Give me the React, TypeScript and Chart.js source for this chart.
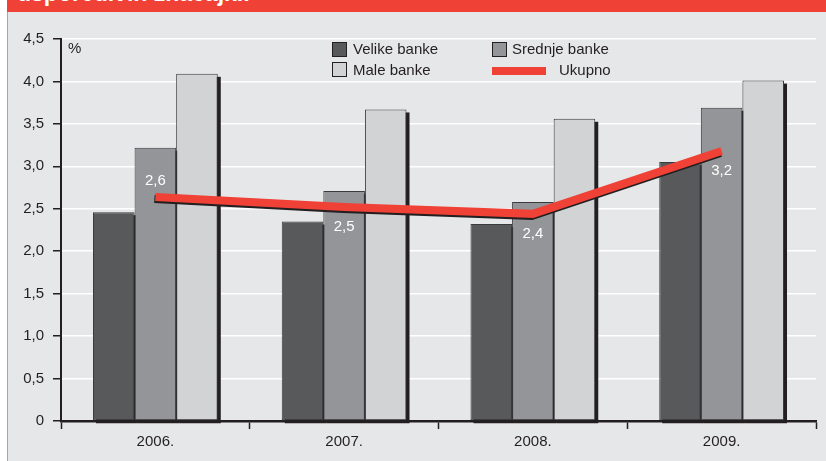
import React, { useEffect, useRef } from 'react';
import { Chart, registerables } from 'chart.js';

Chart.register(...registerables);

const titleText = 'usporedivih značajki.';
const categories = ['2006.', '2007.', '2008.', '2009.'];
const seriesNames = ['Velike banke', 'Srednje banke', 'Male banke', 'Ukupno'];
const velikeBanke = [2.46, 2.35, 2.32, 3.05];
const srednjeBanke = [3.22, 2.71, 2.58, 3.69];
const maleBanke = [4.09, 3.67, 3.56, 4.01];
const ukupno = [2.64, 2.52, 2.44, 3.18];
const labelSide = ['above', 'below', 'below', 'below'];
const yMin = 0;
const yMax = 4.5;
const yStep = 0.5;
const unitLabel = '%';

const FONT = "'Liberation Sans', Arial, sans-serif";
const TEXT = '#231f20';
const RED = '#ef4136';
const BG = '#e6e7e8';
const DARK = '#58595b';
const MID = '#939598';
const LIGHT = '#d1d3d4';

const fmt = (v: number) => (v === 0 ? '0' : v.toFixed(1).replace('.', ','));

// Bar drop shadows drawn behind all bars, from the bar elements' own geometry
const barShadowPlugin = {
  id: 'barShadows',
  beforeDatasetsDraw(chart: any) {
    const ctx = chart.ctx;
    ctx.save();
    ctx.fillStyle = TEXT;
    chart.data.datasets.forEach((ds: any, i: number) => {
      if (ds.type !== 'bar') return;
      const meta = chart.getDatasetMeta(i);
      meta.data.forEach((el: any) => {
        const w = el.width;
        const left = el.x - w / 2;
        const top = Math.min(el.y, el.base);
        const h = Math.abs(el.base - el.y);
        ctx.fillRect(left + 3, top + 3, w, h);
      });
    });
    ctx.restore();
  },
};

const lineShadowPlugin = {
  id: 'lineShadow',
  beforeDatasetDraw(chart: any, args: any) {
    const ds = chart.data.datasets[args.index];
    const ctx = chart.ctx;
    ctx.save();
    if (ds.type === 'line') {
      ctx.shadowColor = TEXT;
      ctx.shadowBlur = 0;
      ctx.shadowOffsetX = -1;
      ctx.shadowOffsetY = 2;
    }
  },
  afterDatasetDraw(chart: any) {
    chart.ctx.restore();
  },
};

const lineLabelPlugin = {
  id: 'lineLabels',
  afterDatasetsDraw(chart: any) {
    const ctx = chart.ctx;
    chart.data.datasets.forEach((ds: any, i: number) => {
      if (ds.type !== 'line') return;
      const meta = chart.getDatasetMeta(i);
      ctx.save();
      ctx.fillStyle = '#ffffff';
      ctx.font = `15px ${FONT}`;
      ctx.textAlign = 'center';
      ctx.textBaseline = 'middle';
      meta.data.forEach((pt: any, j: number) => {
        const v = ds.data[j] as number;
        const txt = (Math.round(v * 10) / 10).toFixed(1).replace('.', ',');
        const dy = labelSide[j] === 'above' ? -16 : 20;
        ctx.fillText(txt, pt.x, pt.y + dy);
      });
      ctx.restore();
    });
  },
};

function ChartCanvas() {
  const ref = useRef<HTMLCanvasElement | null>(null);
  useEffect(() => {
    if (!ref.current) return;
    const barCommon = {
      borderColor: '#3b3a3c',
      borderWidth: 1,
      borderSkipped: false,
      categoryPercentage: 0.661,
      barPercentage: 1.0,
      clip: false,
      order: 1,
    };
    const chart = new Chart(ref.current, {
      type: 'bar',
      data: {
        labels: categories,
        datasets: [
          { ...barCommon, type: 'bar', label: seriesNames[0], data: velikeBanke, backgroundColor: DARK } as any,
          { ...barCommon, type: 'bar', label: seriesNames[1], data: srednjeBanke, backgroundColor: MID } as any,
          { ...barCommon, type: 'bar', label: seriesNames[2], data: maleBanke, backgroundColor: LIGHT } as any,
          {
            type: 'line',
            label: seriesNames[3],
            data: ukupno,
            borderColor: RED,
            backgroundColor: RED,
            borderWidth: 8,
            pointRadius: 0,
            tension: 0,
            fill: false,
            borderCapStyle: 'butt',
            borderJoinStyle: 'miter',
            order: 0,
          } as any,
        ],
      },
      options: {
        animation: false,
        responsive: false,
        events: [],
        devicePixelRatio: 1,
        layout: { padding: { top: 39, right: 10, bottom: 0, left: 0 } },
        plugins: {
          legend: { display: false },
          tooltip: { enabled: false },
          title: { display: false },
        },
        scales: {
          x: {
            offset: true,
            afterFit: (s: any) => {
              s.height = 40;
            },
            grid: {
              offset: true,
              drawOnChartArea: false,
              drawTicks: true,
              tickLength: 8,
              tickColor: TEXT,
              tickWidth: 1.5,
            },
            border: { display: true, color: TEXT, width: 2.5 },
            ticks: {
              color: TEXT,
              font: { family: FONT, size: 15 },
              padding: 4,
              maxRotation: 0,
            },
          },
          y: {
            min: yMin,
            max: yMax,
            afterFit: (s: any) => {
              s.width = 61;
            },
            grid: {
              color: '#ffffff',
              lineWidth: 1.5,
              drawTicks: true,
              tickLength: 8,
              tickColor: TEXT,
              tickWidth: 1.5,
            },
            border: { display: true, color: TEXT, width: 2 },
            ticks: {
              stepSize: yStep,
              color: TEXT,
              font: { family: FONT, size: 15 },
              padding: 9,
              callback: (v: any) => fmt(Number(v)),
            },
          },
        },
      } as any,
      plugins: [barShadowPlugin, lineShadowPlugin, lineLabelPlugin],
    });
    return () => chart.destroy();
  }, []);
  return (
    <canvas
      ref={ref}
      width={826}
      height={461}
      style={{ position: 'absolute', left: 0, top: 0, width: 826, height: 461 }}
    />
  );
}

const legendText: React.CSSProperties = {
  position: 'absolute',
  fontFamily: FONT,
  fontSize: 15,
  lineHeight: '17px',
  color: TEXT,
  whiteSpace: 'nowrap',
};

const box = (left: number, top: number, color: string): React.CSSProperties => ({
  position: 'absolute',
  left,
  top,
  width: 13,
  height: 13,
  background: color,
  border: `1px solid ${TEXT}`,
});

export default function App() {
  return (
    <div
      style={{
        position: 'fixed',
        left: 0,
        top: 0,
        width: 826,
        height: 461,
        background: '#ffffff',
        overflow: 'hidden',
      }}
    >
      <div
        style={{
          position: 'absolute',
          left: 7,
          top: 0,
          right: 0,
          bottom: 0,
          background: BG,
          borderLeft: '1px solid #f08a80',
        }}
      />
      <div
        style={{
          position: 'absolute',
          left: 7,
          top: 0,
          right: 0,
          height: 12,
          background: RED,
          overflow: 'hidden',
        }}
      >
        <div
          style={{
            position: 'absolute',
            left: 10,
            top: -18,
            fontFamily: FONT,
            fontWeight: 'bold',
            fontSize: 23,
            lineHeight: '23px',
            color: '#ffffff',
            whiteSpace: 'nowrap',
          }}
        >
          {titleText}
        </div>
      </div>
      <ChartCanvas />
      <div style={{ ...legendText, left: 68, top: 39 }}>{unitLabel}</div>
      <div style={box(332, 42, DARK)} />
      <div style={{ ...legendText, left: 353, top: 40 }}>{seriesNames[0]}</div>
      <div style={box(492, 42, MID)} />
      <div style={{ ...legendText, left: 512, top: 40 }}>{seriesNames[1]}</div>
      <div style={box(332, 62, LIGHT)} />
      <div style={{ ...legendText, left: 353, top: 61 }}>{seriesNames[2]}</div>
      <div
        style={{
          position: 'absolute',
          left: 492,
          top: 67,
          width: 54,
          height: 8,
          background: RED,
        }}
      />
      <div style={{ ...legendText, left: 559, top: 61 }}>{seriesNames[3]}</div>
    </div>
  );
}
